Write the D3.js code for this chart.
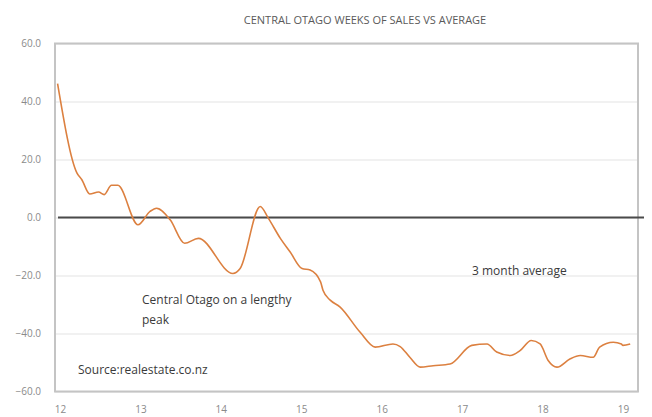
<!DOCTYPE html>
<html>
<head>
<meta charset="utf-8">
<script src="https://cdn.jsdelivr.net/npm/d3@7"></script>
<style>
  body { margin: 0; background: #fff; }
  svg text { font-family: "Open Sans", "Noto Sans", sans-serif; }
</style>
</head>
<body>
<div id="app"></div>
<script>
// decimal year of each reading (12 = start of 2012) and weeks of sales vs average
const years = [11.97, 12.21, 12.27, 12.37, 12.48, 12.55, 12.64, 12.72, 12.97, 13.12,
  13.20, 13.37, 13.55, 13.72, 14.15, 14.24, 14.49, 14.59, 14.74, 14.86,
  15.01, 15.11, 15.24, 15.27, 15.36, 15.48, 15.73, 15.92, 16.14, 16.23,
  16.35, 16.48, 16.64, 16.85, 17.12, 17.31, 17.43, 17.60, 17.72, 17.86,
  17.97, 18.07, 18.18, 18.34, 18.47, 18.63, 18.71, 18.88, 18.98, 19.00, 19.09];
const values = [46.2, 15.4, 13.1, 8.1, 8.8, 7.9, 11.1, 11.1, -2.5, 2.1,
  3.2, -0.8, -8.9, -7.2, -19.3, -17.6, 3.8, -0.2, -7.2, -11.8,
  -17.6, -18.1, -22.2, -25.1, -28.5, -30.8, -39.5, -44.7, -43.6, -44.5,
  -48.2, -51.6, -51.1, -50.5, -44.1, -43.6, -46.4, -47.6, -45.9, -42.4,
  -43.6, -49.3, -51.6, -48.8, -47.6, -48.2, -44.7, -43.0, -43.6, -44.1, -43.6];
const xTicks = [12, 13, 14, 15, 16, 17, 18, 19];
const yTicks = [-60, -40, -20, 0, 20, 40, 60];

const width = 652, height = 417;
const plot = { left: 55, right: 638, top: 43.5, bottom: 391.5 };

const svg = d3.select("#app").append("svg")
  .attr("width", width)
  .attr("height", height);

const x = d3.scaleLinear().domain([11.938, 19.187]).range([plot.left, plot.right]);
const y = d3.scaleLinear().domain([-60, 60]).range([plot.bottom, plot.top]);

// title
svg.append("text")
  .attr("x", 365)
  .attr("y", 24)
  .attr("text-anchor", "middle")
  .attr("font-size", 11)
  .attr("fill", "#5a5a5a")
  .text("CENTRAL OTAGO WEEKS OF SALES VS AVERAGE");

// horizontal gridlines
svg.append("g")
  .attr("transform", `translate(${plot.left},0)`)
  .call(d3.axisLeft(y).tickValues(yTicks).tickSize(-(plot.right - plot.left)).tickFormat(""))
  .call(g => g.select(".domain").remove())
  .call(g => g.selectAll("line").attr("stroke", "#ececec").attr("stroke-width", 1.5));

// y axis labels
svg.append("g")
  .attr("transform", `translate(${plot.left},0)`)
  .call(d3.axisLeft(y).tickValues(yTicks).tickSize(0).tickPadding(14).tickFormat(d3.format(".1f")))
  .call(g => g.select(".domain").remove())
  .call(g => g.selectAll("text").attr("font-size", 10).attr("fill", "#8a8a8a")
    .style("font-family", "'Open Sans', sans-serif"));

// x axis labels
svg.append("g")
  .attr("transform", `translate(0,${plot.bottom})`)
  .call(d3.axisBottom(x).tickValues(xTicks).tickSize(0).tickPadding(14).tickFormat(d3.format("d")))
  .call(g => g.select(".domain").remove())
  .call(g => g.selectAll("text").attr("font-size", 10).attr("fill", "#8a8a8a")
    .style("font-family", "'Open Sans', sans-serif"));

// plot border
svg.append("rect")
  .attr("x", plot.left)
  .attr("y", plot.top)
  .attr("width", plot.right - plot.left)
  .attr("height", plot.bottom - plot.top)
  .attr("fill", "none")
  .attr("stroke", "#c4c4c4")
  .attr("stroke-width", 2);

// zero line
svg.append("line")
  .attr("x1", plot.left + 3)
  .attr("x2", plot.right + 6)
  .attr("y1", y(0))
  .attr("y2", y(0))
  .attr("stroke", "#4a4a4a")
  .attr("stroke-width", 2);

// the series
const line = d3.line()
  .x(d => x(d[0]))
  .y(d => y(d[1]))
  .curve(d3.curveMonotoneX);

svg.append("path")
  .datum(d3.zip(years, values))
  .attr("fill", "none")
  .attr("stroke", "#dc8040")
  .attr("stroke-width", 1.6)
  .attr("stroke-linejoin", "round")
  .attr("d", line);

// annotations
const notes = svg.append("g")
  .attr("font-size", 12)
  .attr("fill", "#3a3a3a");
notes.append("text").attr("x", 142).attr("y", 304).text("Central Otago on a lengthy");
notes.append("text").attr("x", 142).attr("y", 324).text("peak");
notes.append("text").attr("x", 78).attr("y", 374).text("Source:realestate.co.nz");
notes.append("text").attr("x", 472).attr("y", 275).text("3 month average");
</script>
</body>
</html>
